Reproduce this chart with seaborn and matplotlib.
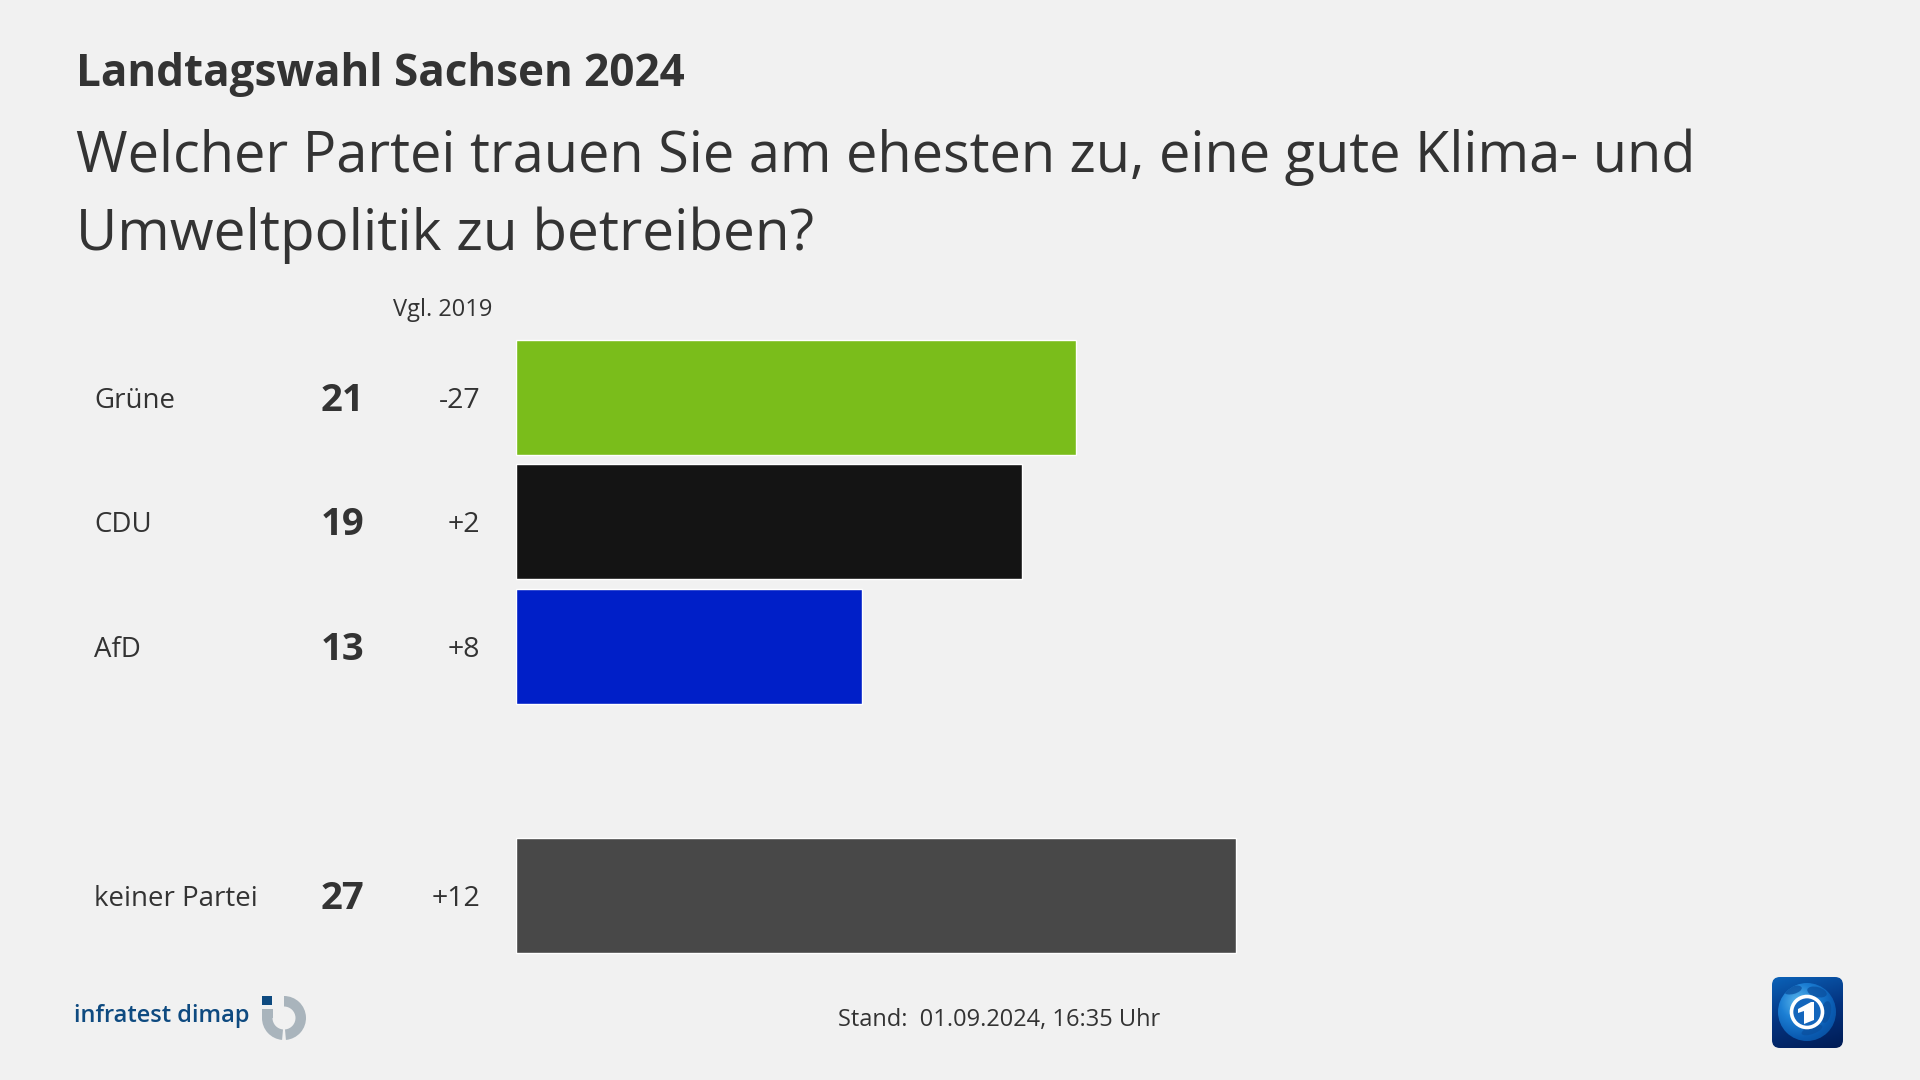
import matplotlib
matplotlib.use("Agg")
import matplotlib.pyplot as plt
from matplotlib.colors import LinearSegmentedColormap
from matplotlib.patches import Circle, Ellipse, FancyBboxPatch, Polygon, Rectangle, Wedge
import numpy as np
import pandas as pd
import seaborn as sns

parties = ["Grüne", "CDU", "AfD", "keiner Partei"]
values = [21, 19, 13, 27]
changes = ["-27", "+2", "+8", "+12"]
colors = ["#7ABD1B", "#141414", "#001FC8", "#484848"]
row_order = ["Grüne", "CDU", "AfD", "", "keiner Partei"]

BG = "#F1F1F1"
INK = "#333333"

sns.set_style("white")
plt.rcParams["font.family"] = ["Open Sans", "DejaVu Sans"]

df = pd.DataFrame({"party": parties, "value": values})

fig = plt.figure(figsize=(19.2, 10.8), dpi=100, facecolor=BG)

# bars: left edge 516px, 26.6px per point, row pitch 124.5px
ax = fig.add_axes([516 / 1920, 1 - 957.5 / 1080, 1400 / 1920, 622.5 / 1080])
sns.barplot(data=df, x="value", y="party", hue="party", order=row_order,
            hue_order=parties, palette=colors, width=0.92, saturation=1,
            dodge=False, legend=False, ax=ax)
ax.set_xlim(0, 1400 / 26.65)
ax.set_ylim(4.5, -0.5)
ax.set_facecolor("none")
ax.axis("off")

# overlay in pixel coordinates for text and logos
ov = fig.add_axes([0, 0, 1, 1], facecolor="none")
ov.set_xlim(0, 1920)
ov.set_ylim(1080, 0)
ov.axis("off")

ov.text(76, 86, "Landtagswahl Sachsen 2024", fontsize=31.7, fontweight="bold",
        color=INK, va="baseline")
ov.text(76, 172, "Welcher Partei trauen Sie am ehesten zu, eine gute Klima- und",
        fontsize=40.2, color=INK, va="baseline")
ov.text(76, 250, "Umweltpolitik zu betreiben?", fontsize=40.8, color=INK, va="baseline")
ov.text(492, 310, "Vgl. 2019", fontsize=17, color=INK, ha="right", va="center")

for party, value, change in zip(parties, values, changes):
    y = 335.5 + 124.5 * (row_order.index(party) + 0.5)
    ov.text(94, y + 3, party, fontsize=19.9, color=INK, va="center")
    ov.text(364, y + 3, str(value), fontsize=27.5, fontweight="bold", color=INK,
            ha="right", va="center")
    ov.text(480, y + 3, change, fontsize=20.5, color=INK, ha="right", va="center")

ov.text(999, 1020, "Stand:  01.09.2024, 16:35 Uhr", fontsize=17, color=INK,
        ha="center", va="center")

# infratest dimap logo
ov.text(74, 1016, "infratest dimap", fontsize=17, color="#0E4A80", va="center",
        fontweight="semibold")
logo_gray = "#A9B4BC"
ov.add_patch(Wedge((284, 1018), 22, -90, 85, width=10.5, color=logo_gray, lw=0))
ov.add_patch(Wedge((284, 1018), 22, 95, 180, width=10.5, color=logo_gray, lw=0))
ov.add_patch(Rectangle((262, 1009), 10.5, 9, color=logo_gray, lw=0))
ov.add_patch(Rectangle((262, 996), 10, 9, color="#0E4A80", lw=0))

# tagesschau-style logo
box = FancyBboxPatch((1776, 981), 63, 63, boxstyle="round,pad=4,rounding_size=8",
                     fc="none", ec="none")
ov.add_patch(box)
yy, xx = np.mgrid[0:1:80j, 0:1:80j]
back = ov.imshow(yy + 0.3 * xx, extent=(1772, 1843, 1048, 977), aspect="auto",
                 cmap=LinearSegmentedColormap.from_list(
                     "bg", ["#0B62B8", "#04337F", "#011C55"]), zorder=2)
back.set_clip_path(box)

gy, gx = np.mgrid[-1:1:120j, -1:1:120j]
dist = np.hypot(gx + 0.3, gy + 0.35)
globe_img = ov.imshow(dist, extent=(1778, 1836, 1041, 983), aspect="auto", zorder=3,
                      cmap=LinearSegmentedColormap.from_list(
                          "globe", ["#5DB8EC", "#1C7FD4", "#0A5AB0", "#07468F"]))
globe = Circle((1807, 1012), 29, fc="none", ec="none", zorder=3)
ov.add_patch(globe)
globe_img.set_clip_path(globe)
for cx, cy, w, h, ang in [(1793, 990, 18, 8, -15), (1817, 992, 20, 10, 15),
                          (1826, 1012, 10, 22, 10), (1812, 1030, 22, 8, -20)]:
    land = Ellipse((cx, cy), w, h, angle=ang, fc="#0A4F9E", ec="none", alpha=0.75, zorder=3.5)
    ov.add_patch(land)
    land.set_clip_path(globe)
ov.add_patch(Circle((1807, 1012), 15.5, fc="#1466BC", ec="white", lw=2.6, zorder=4))
ov.add_patch(Polygon([(1798, 1009), (1811, 1002), (1814, 1002), (1814, 1020),
                      (1804, 1024), (1804, 1011), (1798, 1013)],
                     fc="white", ec="none", zorder=5))
ov.set_xlim(0, 1920)
ov.set_ylim(1080, 0)

fig.savefig("out.png", dpi=100, facecolor=BG)
